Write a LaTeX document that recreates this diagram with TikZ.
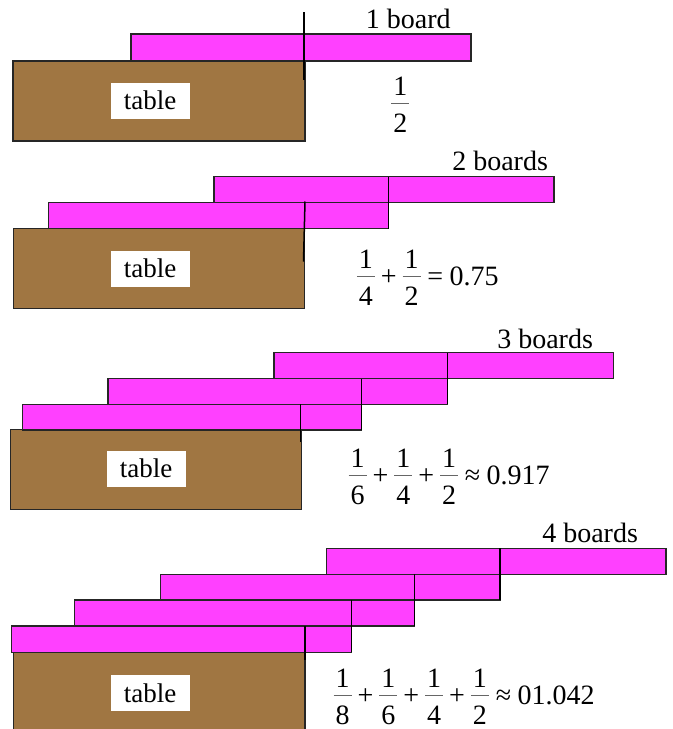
\documentclass[tikz,border=0pt]{standalone}
\usepackage{amsmath}
\usepackage{fontspec}
\setmainfont{Liberation Serif}
\definecolor{boardc}{RGB}{255,64,255}
\definecolor{tablec}{RGB}{160,118,66}
\tikzset{
  board/.style={draw=black!85, fill=boardc, line width=0.75pt},
  tablebox/.style={draw=black!85, fill=tablec, line width=0.75pt},
  lbl/.style={fill=white, minimum width=39.5pt, minimum height=18pt, inner sep=0pt, font=\fontsize{13.5}{16}\selectfont},
  ttl/.style={anchor=base east, inner sep=0pt, font=\fontsize{14}{17}\selectfont},
  frm/.style={anchor=base west, inner sep=0pt, font=\fontsize{14}{17}\selectfont},
  markline/.style={draw=black, line width=0.75pt}
}
\newcommand{\fsp}{\medmuskip=3.5mu \thickmuskip=4mu }
\newcommand{\ff}[2]{\mathord{\vcenter{\offinterlineskip\hbox{\kern0.2pt\vbox{\halign{\hfil\kern1pt##\kern1pt\hfil\cr #1\cr\noalign{\kern3.5pt{\color{black!60}\hrule height 0.5pt}\kern5pt}#2\cr}}\kern0.2pt}}}}
\newcommand{\pl}{\mathbin{\text{+}}}
\newcommand{\eqs}{\mathrel{\text{=}}}
\newcommand{\apx}{\mathrel{\text{≈}}}
\begin{document}
\begin{tikzpicture}[x=0.5pt,y=-0.5pt]
\useasboundingbox (0,0) rectangle (673,729);
\begin{scope}
\clip (0,0) rectangle (673,729);
% ---------- panel 1 ----------
\draw[tablebox] (13,61) rectangle (305,141);
\draw[board] (131,34) rectangle (471,61);
\draw[markline] (304,12) -- (304,80);
\node[lbl] (t1) at (150,100.5) {table};
\node[ttl] (n1) at (451,28.3) {1 board};
\node[frm] (f1) at (390.6,112) {$\fsp\ff{1}{2}$};
% ---------- panel 2 ----------
\draw[tablebox] (13.7,228.7) rectangle (304.3,308.7);
\draw[board] (48.7,202.5) rectangle (388.3,228.5);
\draw[board] (214,176.7) rectangle (554,202.5);
\draw[markline] (388.3,176.7) -- (388.3,228.5);
\draw[markline] (305,201.5) -- (303.5,261.7);
\node[lbl] (t2) at (150,268.5) {table};
\node[ttl] (n2) at (548.3,170.7) {2 boards};
\node[frm] (f2) at (356,285) {$\fsp\ff{1}{4}\pl\ff{1}{2}\eqs\text{0.75}$};
% ---------- panel 3 ----------
\draw[tablebox] (10.3,429.5) rectangle (301.5,509.3);
\draw[board] (22.3,404.3) rectangle (361.7,430);
\draw[board] (108,378.7) rectangle (447.7,404.3);
\draw[board] (274,352.7) rectangle (613.3,378.7);
\draw[markline] (447.7,352.7) -- (447.7,404.3);
\draw[markline] (361.7,378.7) -- (361.7,430);
\draw[markline] (300.7,404.3) -- (300.7,441.7);
\node[lbl] (t3) at (146.2,468.7) {table};
\node[ttl] (n3) at (593.3,348.3) {3 boards};
\node[frm] (f3) at (347.8,484) {$\fsp\ff{1}{6}\pl\ff{1}{4}\pl\ff{1}{2}\apx\text{0.917}$};
% ---------- panel 4 ----------
\draw[tablebox] (13.7,652.3) rectangle (305,732.3);
\draw[board] (11.3,626.2) rectangle (351.7,652.3);
\draw[board] (74.7,600) rectangle (414.3,626.2);
\draw[board] (160.3,574.3) rectangle (500,600);
\draw[board] (326.3,548.3) rectangle (666,574.3);
\draw[markline] (500,548.3) -- (500,600);
\draw[markline] (414.3,574.3) -- (414.3,626.2);
\draw[markline] (351.7,600) -- (351.7,652.3);
\draw[markline] (305,626.2) -- (305,660);
\node[lbl] (t4) at (150,692.8) {table};
\node[ttl] (n4) at (638.3,542.7) {4 boards};
\node[frm] (f4) at (332.8,704) {$\fsp\ff{1}{8}\pl\ff{1}{6}\pl\ff{1}{4}\pl\ff{1}{2}\apx\text{01.042}$};
\end{scope}
\end{tikzpicture}
\end{document}
